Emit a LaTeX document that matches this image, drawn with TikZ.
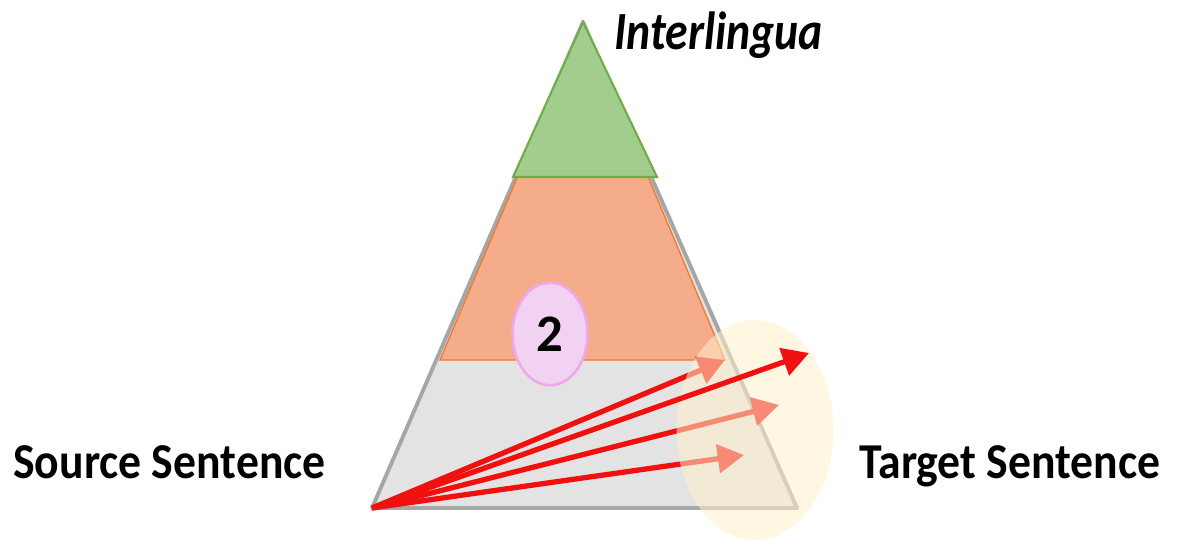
\documentclass[tikz,border=0pt]{standalone}
\usepackage{fontspec}
\setmainfont{Carlito}
\usetikzlibrary{arrows.meta, shapes.geometric}
\definecolor{tgray}{HTML}{E3E3E3}
\definecolor{tgrayline}{HTML}{A6A6A6}
\definecolor{torange}{HTML}{F4AC8A}
\definecolor{torangeline}{HTML}{ED7D31}
\definecolor{tgreen}{HTML}{A2CD8E}
\definecolor{tgreenline}{HTML}{70AD47}
\definecolor{tpink}{HTML}{F2D2F2}
\definecolor{tpinkline}{HTML}{F0A8EC}
\definecolor{tyellow}{HTML}{FFF0C8}
\definecolor{tred}{HTML}{F01010}

\begin{document}
\begin{tikzpicture}[x=0.02cm, y=-0.02cm,
  label/.style={font=\bfseries\fontsize{26}{30}\selectfont, inner sep=0pt, anchor=base west, yscale=1.1},
  transfer/.style={tred, line width=3pt, -{Triangle[length=15pt, width=16pt]}}]
  \useasboundingbox (0,0) rectangle (1186,540);
  % Pyramid layers
  \draw[tgrayline, fill=tgray, line width=2.2pt, line join=round] (583,22) -- (372,508) -- (797,508) -- cycle;
  \draw[torangeline, fill=torange, line width=0.8pt] (583,22) -- (440,360) -- (725,360) -- cycle;
  \draw[tgreenline, fill=tgreen, line width=1.2pt] (583,22) -- (513,177) -- (657,177) -- cycle;
  % End points of the transfer arrows
  \coordinate (src) at (372,508);
  \coordinate (t1) at (725,360);
  \coordinate (t2) at (809,353);
  \coordinate (t3) at (779,405);
  \coordinate (t4) at (744,455);
  \draw[transfer] (src) -- (t1);
  \draw[transfer] (src) -- (t3);
  \draw[transfer] (src) -- (t4);
  % Target region
  \node[ellipse, draw=none, fill=tyellow, fill opacity=0.55, inner sep=0pt,
        minimum width=3.14cm, minimum height=4.4cm] (target) at (755,430) {};
  \draw[transfer] (src) -- (t2);
  % Level marker
  \node[ellipse, draw=tpinkline, fill=tpink, line width=1.5pt, minimum width=1.5cm, minimum height=2.05cm,
        font=\bfseries\fontsize{30}{32}\selectfont] (level) at (550,334) {2};
  % Labels
  \node[label] (source) at (13,478) {Source Sentence};
  \node[label] (targetlbl) at (859,478) {Target Sentence};
  \node[label, font=\bfseries\itshape\fontsize{26}{30}\selectfont, yscale=1.07] (inter) at (614,50) {Interlingua};
\end{tikzpicture}
\end{document}
